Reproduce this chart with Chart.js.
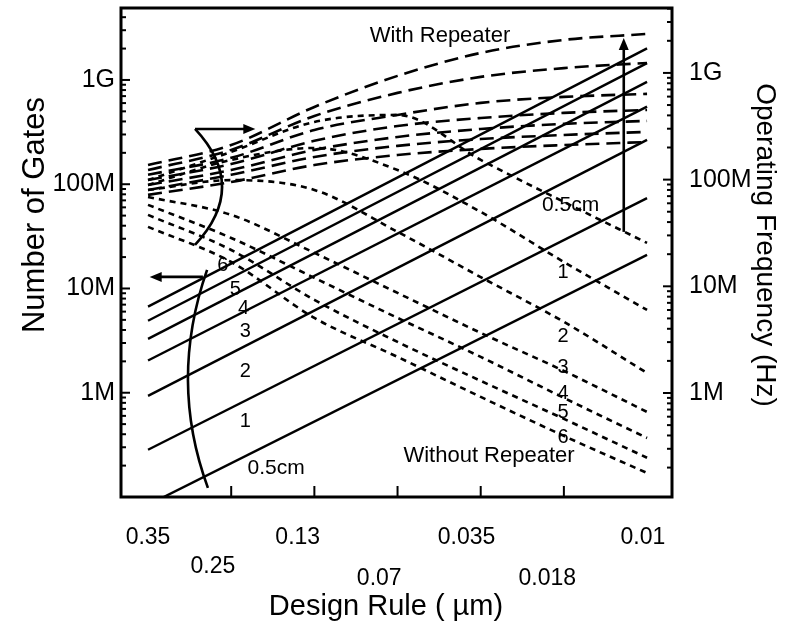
<!DOCTYPE html>
<html>
<head>
<meta charset="utf-8">
<script src="https://cdn.jsdelivr.net/npm/chart.js@4.4.0/dist/chart.umd.min.js"></script>
<style>
  html, body { margin: 0; padding: 0; background: #fff; }
</style>
</head>
<body>
<canvas id="chart" width="785" height="626"></canvas>
<script>
//DATOS DEL GRAFICO

// posiciones de generacion en el eje inferior (marcas cada generacion)
const genX = [0, 1, 2, 3, 4, 5, 6]
// las lineas de compuertas son rectas: solo se leen los extremos
const gateX = [0, 6]
const ruleLabels = ['0.35', '0.25', '0.13', '0.07', '0.035', '0.018', '0.01']
const rulePos = [0, 0.78, 1.8, 2.78, 3.83, 4.8, 5.95]
const chipLabels = ['0.5cm', '1', '2', '3', '4', '5', '6']

// numero de compuertas (eje izquierdo)
const gates05 = [84e3, 21e6]
const gates1 = [284e3, 73.5e6]
const gates2 = [934e3, 266e6]
const gates3 = [2.04e6, 555e6]
const gates4 = [3.29e6, 960e6]
const gates5 = [4.9e6, 1.45e9]
const gates6 = [6.7e6, 2.01e9]

// frecuencia con repetidor (eje derecho)
const withRep05 = [137e6, 211e6, 480e6, 938e6, 1.54e9, 2.04e9, 2.32e9]
const withRep1 = [123e6, 190e6, 395e6, 650e6, 918e6, 1.11e9, 1.24e9]
const withRep2 = [111e6, 160e6, 292e6, 404e6, 524e6, 596e6, 636e6]
const withRep3 = [99e6, 140e6, 231e6, 318e6, 378e6, 422e6, 450e6]
const withRep4 = [89e6, 123e6, 190e6, 251e6, 298e6, 333e6, 355e6]
const withRep5 = [80e6, 111e6, 163e6, 207e6, 240e6, 262e6, 280e6]
const withRep6 = [72e6, 95e6, 137e6, 170e6, 194e6, 211e6, 225e6]

// frecuencia sin repetidor (eje derecho)
const noRep05 = [99e6, 182e6, 347e6, 404e6, 153e6, 61.8e6, 25.5e6]
const noRep1 = [89e6, 153e6, 198e6, 123e6, 49.8e6, 16.9e6, 6.0e6]
const noRep2 = [80e6, 99e6, 80e6, 32.4e6, 12.2e6, 4.64e6, 1.54e6]
const noRep3 = [68.8e6, 46.7e6, 20.6e6, 8.67e6, 3.66e6, 1.61e6, 665e3]
const noRep4 = [58e6, 28.4e6, 12.0e6, 5.06e6, 2.18e6, 900e3, 379e3]
const noRep5 = [46.7e6, 21.9e6, 7.46e6, 3.01e6, 1.30e6, 572e3, 247e3]
const noRep6 = [36.1e6, 16.9e6, 5.06e6, 2.18e6, 919e3, 396e3, 178e3]

//ESTILO Y ANOTACIONES

const fontFam = "'Liberation Sans', Arial, Helvetica, sans-serif"
Chart.defaults.font.family = fontFam
Chart.defaults.color = '#000'

// textos junto a las lineas: [texto, x, valor, eje, tamano]
const notes = [
    ['6', 0.90, 16.8e6, 'y', 20], ['5', 1.05, 9.7e6, 'y', 20], ['4', 1.15, 6.5e6, 'y', 20],
    ['3', 1.17, 3.84e6, 'y', 20], ['2', 1.17, 1.59e6, 'y', 20], ['1', 1.17, 526e3, 'y', 20],
    ['0.5cm', 1.54, 190e3, 'y', 21],
    ['0.5cm', 5.08, 58e6, 'y2', 21], ['1', 4.99, 13.4e6, 'y2', 20], ['2', 4.99, 3.36e6, 'y2', 20],
    ['3', 4.99, 1.72e6, 'y2', 20], ['4', 4.99, 1.0e6, 'y2', 20], ['5', 4.99, 650e3, 'y2', 20],
    ['6', 4.99, 380e3, 'y2', 20],
    ['With Repeater', 3.51, 2.22e9, 'y2', 22], ['Without Repeater', 4.10, 257e3, 'y2', 22]
]

function pts(xs, ys) {
    return xs.map((x, i) => ({ x: x, y: ys[i] }))
}

function solid(label, ys) {
    return { label: label, data: pts(gateX, ys), yAxisID: 'y', borderColor: '#000', borderWidth: 2.4, pointRadius: 0 }
}

function dashed(label, ys) {
    return {
        label: label, data: pts(genX, ys), yAxisID: 'y2', borderColor: '#000', borderWidth: 2.6,
        borderDash: [14, 7], pointRadius: 0, cubicInterpolationMode: 'monotone'
    }
}

function dotted(label, ys) {
    return {
        label: label, data: pts(genX, ys), yAxisID: 'y2', borderColor: '#000', borderWidth: 2.6,
        borderDash: [6, 5], pointRadius: 0, cubicInterpolationMode: 'monotone'
    }
}

const gateSets = [gates05, gates1, gates2, gates3, gates4, gates5, gates6]
const withSets = [withRep05, withRep1, withRep2, withRep3, withRep4, withRep5, withRep6]
const noSets = [noRep05, noRep1, noRep2, noRep3, noRep4, noRep5, noRep6]

const datasets = []
chipLabels.forEach((c, i) => datasets.push(solid('gates ' + c, gateSets[i])))
chipLabels.forEach((c, i) => datasets.push(dashed('with ' + c, withSets[i])))
chipLabels.forEach((c, i) => datasets.push(dotted('without ' + c, noSets[i])))

function isDecade(v) {
    const l = Math.log10(v)
    return Math.abs(l - Math.round(l)) < 1e-9
}

function logTicks(scale) {
    const ticks = []
    for (let e = 4; e <= 10; e++) {
        for (let m = 1; m <= 9; m++) {
            const v = m * Math.pow(10, e)
            if (v >= scale.min && v <= scale.max) ticks.push({ value: v })
        }
    }
    scale.ticks = ticks
}

function decadeLabel(value) {
    if (!isDecade(value)) return ''
    const l = Math.round(Math.log10(value))
    if (l === 6) return '1M'
    if (l === 7) return '10M'
    if (l === 8) return '100M'
    if (l === 9) return '1G'
    return ''
}

function fitY(width) {
    return s => {
        s.width = width
        s.paddingTop = 0
        s.paddingBottom = 0
    }
}

function line(ctx, x1, y1, x2, y2) {
    ctx.beginPath()
    ctx.moveTo(x1, y1)
    ctx.lineTo(x2, y2)
    ctx.stroke()
}

function arrowHead(ctx, x, y, ang) {
    ctx.save()
    ctx.translate(x, y)
    ctx.rotate(ang)
    ctx.beginPath()
    ctx.moveTo(0, 0)
    ctx.lineTo(-12, -5)
    ctx.lineTo(-12, 5)
    ctx.closePath()
    ctx.fill()
    ctx.restore()
}

// curva que pasa por tres puntos
function bracket(ctx, p0, p1, p2) {
    const cx = 2 * p1.x - (p0.x + p2.x) / 2
    const cy = 2 * p1.y - (p0.y + p2.y) / 2
    ctx.beginPath()
    ctx.moveTo(p0.x, p0.y)
    ctx.quadraticCurveTo(cx, cy, p2.x, p2.y)
    ctx.stroke()
}

const decor = {
    id: 'decor',
    afterDraw(chart) {
        const ctx = chart.ctx
        const a = chart.chartArea
        const xs = chart.scales.x
        const yl = chart.scales.y
        const yr = chart.scales.y2
        const P = (x, v, ax) => ({ x: xs.getPixelForValue(x), y: chart.scales[ax].getPixelForValue(v) })

        ctx.save()
        ctx.strokeStyle = '#000'
        ctx.fillStyle = '#000'

        // marco
        ctx.lineWidth = 3
        ctx.strokeRect(a.left, a.top, a.right - a.left, a.bottom - a.top)

        // marcas hacia adentro
        ctx.lineWidth = 2
        yl.ticks.forEach(t => {
            const y = yl.getPixelForValue(t.value)
            line(ctx, a.left, y, a.left + (isDecade(t.value) ? 9 : 5), y)
        })
        yr.ticks.forEach(t => {
            const y = yr.getPixelForValue(t.value)
            line(ctx, a.right, y, a.right - (isDecade(t.value) ? 9 : 5), y)
        })
        xs.ticks.filter(t => Number.isInteger(t.value)).forEach(t => {
            const x = xs.getPixelForValue(t.value)
            line(ctx, x, a.bottom, x, a.bottom - 11)
        })

        // etiquetas de regla de diseno
        const rowY = [538, 567, 538, 579, 538, 579, 538]
        ctx.font = '23px ' + fontFam
        ctx.textAlign = 'center'
        ctx.textBaseline = 'middle'
        ruleLabels.forEach((lab, i) => {
            ctx.fillText(lab, xs.getPixelForValue(rulePos[i]), rowY[i])
        })

        // titulos de ejes
        ctx.font = '29px ' + fontFam
        ctx.fillText('Design Rule ( \u00b5m)', 386, 607)
        ctx.save()
        ctx.font = '31px ' + fontFam
        ctx.translate(35, 215)
        ctx.rotate(-Math.PI / 2)
        ctx.fillText('Number of Gates', 0, 0)
        ctx.restore()
        ctx.save()
        ctx.font = '28px ' + fontFam
        ctx.translate(765, 245)
        ctx.rotate(Math.PI / 2)
        ctx.fillText('Operating Frequency (Hz)', 0, 0)
        ctx.restore()

        // textos sobre las curvas
        notes.forEach(n => {
            const p = P(n[1], n[2], n[3])
            ctx.font = n[4] + 'px ' + fontFam
            ctx.fillText(n[0], p.x, p.y)
        })

        // corchete de compuertas con flecha a la izquierda
        ctx.lineWidth = 2.6
        bracket(ctx, P(0.71, Math.pow(10, 7.178), 'y'), P(0.48, Math.pow(10, 6.124), 'y'), P(0.72, Math.pow(10, 5.088), 'y'))
        const g0 = P(0.66, Math.pow(10, 7.111), 'y')
        const g1 = P(0.02, Math.pow(10, 7.111), 'y')
        line(ctx, g0.x, g0.y, g1.x + 6, g1.y)
        arrowHead(ctx, g1.x, g1.y, Math.PI)

        // corchete de frecuencia con flecha a la derecha
        const f0 = P(0.565, Math.pow(10, 8.475), 'y2')
        bracket(ctx, f0, P(0.89, Math.pow(10, 7.932), 'y2'), P(0.565, Math.pow(10, 7.388), 'y2'))
        const f1 = P(1.29, Math.pow(10, 8.475), 'y2')
        line(ctx, f0.x, f0.y, f1.x - 6, f1.y)
        arrowHead(ctx, f1.x, f1.y, 0)

        // flecha vertical
        const v0 = P(5.72, Math.pow(10, 7.51), 'y2')
        const v1 = P(5.72, Math.pow(10, 9.328), 'y2')
        line(ctx, v0.x, v0.y, v1.x, v1.y + 6)
        arrowHead(ctx, v1.x, v1.y, -Math.PI / 2)

        ctx.restore()
    }
}

const axisFont = { size: 25 }

const config = {
    type: 'line',
    data: { datasets: datasets },
    options: {
        responsive: false,
        animation: false,
        devicePixelRatio: 1,
        layout: { padding: { top: 8, left: 0, right: 0, bottom: 0 } },
        plugins: { legend: { display: false }, tooltip: { enabled: false } },
        scales: {
            x: {
                type: 'linear', min: -0.325, max: 6.3,
                grid: { display: false, drawTicks: false }, border: { display: false },
                ticks: { display: false, stepSize: 1 },
                afterFit: s => { s.height = 129 }
            },
            y: {
                type: 'logarithmic', position: 'left', min: 1e5, max: 4.9e9,
                grid: { display: false, drawTicks: false }, border: { display: false },
                afterBuildTicks: logTicks,
                ticks: { autoSkip: false, padding: 6, color: '#000', font: axisFont, callback: decadeLabel },
                afterFit: fitY(121)
            },
            y2: {
                type: 'logarithmic', position: 'right', min: 1.06e5, max: 4.06e9,
                grid: { display: false, drawTicks: false }, border: { display: false },
                afterBuildTicks: logTicks,
                ticks: { autoSkip: false, padding: 17, color: '#000', font: axisFont, callback: decadeLabel },
                afterFit: fitY(113)
            }
        }
    },
    plugins: [decor]
}

const chartInstance = new Chart(document.getElementById('chart'), config)
</script>
</body>
</html>
